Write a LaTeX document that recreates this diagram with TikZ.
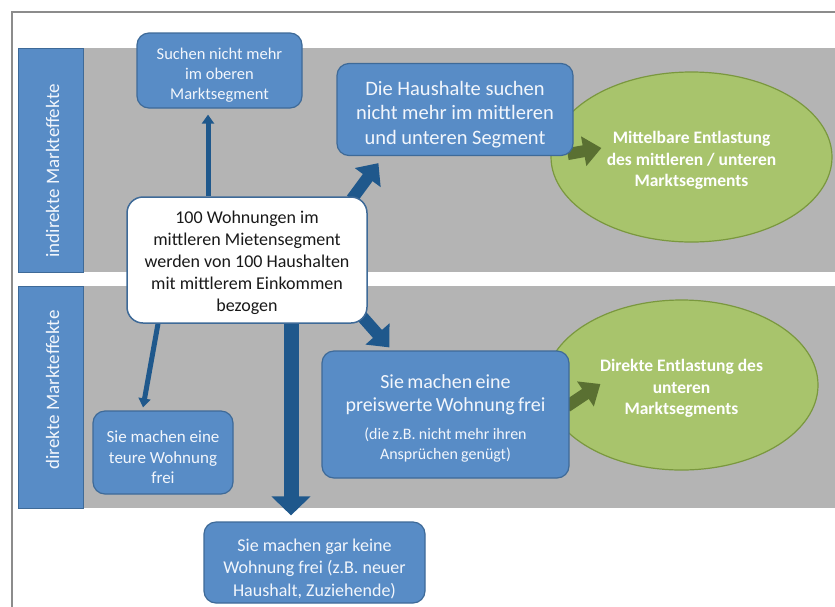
\documentclass[tikz,border=0pt]{standalone}
\usepackage{fontspec}
\setmainfont{Carlito}
\usetikzlibrary{arrows.meta,shapes.geometric}
\definecolor{boxblue}{RGB}{88,140,198}
\definecolor{boxedge}{RGB}{62,106,152}
\definecolor{arrblue}{RGB}{31,88,140}
\definecolor{bandgray}{RGB}{180,180,180}
\definecolor{framegray}{RGB}{140,140,140}
\definecolor{ellgreen}{RGB}{168,196,108}
\definecolor{elledge}{RGB}{122,152,62}
\definecolor{arrgreen}{RGB}{90,112,50}
\definecolor{boxtext}{RGB}{242,246,252}
\newcommand\pushdn[1]{\rule{0pt}{#1}}
\pgfdeclarelayer{back}
\pgfdeclarelayer{mid}
\pgfsetlayers{back,mid,main}
\tikzset{
  bluebox/.style={draw=boxedge, line width=1.2pt, fill=boxblue, rounded corners=12pt,
    text=boxtext, align=center, inner sep=0pt},
  whitebox/.style={draw=boxedge, line width=1.5pt, fill=white, rounded corners=16pt,
    text=black!90, align=center, inner sep=0pt},
  labbox/.style={draw=boxedge, line width=1pt, fill=boxblue, inner sep=0pt},
  labtext/.style={text=boxtext, font=\fontsize{19}{22}\selectfont, inner sep=0pt},
  greenell/.style={ellipse, draw=elledge, line width=1.2pt, fill=ellgreen, inner sep=0pt,
    text=white, align=center, font=\bfseries\fontsize{17.5}{21.5}\selectfont},
  thinarr/.style={draw=arrblue, line width=5pt, -{Triangle[width=12pt,length=9pt]}},
  fatarr/.style={draw=arrblue, line width=12pt, -{Triangle[width=31pt,length=18pt]}},
  bigarr/.style={draw=arrblue, line width=15pt, -{Triangle[width=38pt,length=19pt]}},
  greenarr/.style={draw=arrgreen, line width=12pt, -{Triangle[width=29pt,length=18pt]}}
}
\begin{document}
\begin{tikzpicture}[x=1pt,y=-1pt]
\useasboundingbox (0,0) rectangle (835,606);
\clip (0,0) rectangle (835,606);
\begin{pgfonlayer}{back}
  \fill[white] (0,0) rectangle (835,606);
  \draw[framegray, line width=1.8pt] (12,650) -- (12,12) -- (900,12);
  \fill[bandgray] (83,48) rectangle (840,272);
  \fill[bandgray] (83,286) rectangle (840,508);
  \node[greenell, minimum width=281pt, minimum height=170pt] (ell1) at (691.5,157)
    {\pushdn{19.5pt}Mittelbare Entlastung\\des mittleren / unteren\\Marktsegments};
  \node[greenell, minimum width=273pt, minimum height=170pt] (ell2) at (681.5,385)
    {\pushdn{19pt}Direkte Entlastung des\\unteren\\Marktsegments};
\end{pgfonlayer}

\node[labbox, minimum width=65pt, minimum height=224pt] (lab1) at (50.5,160) {};
\node[labtext, rotate=90] (lab1t) at ([xshift=2pt,yshift=-11pt]lab1.center) {indirekte Markteffekte};
\node[labbox, minimum width=65pt, minimum height=222pt] (lab2) at (50.5,397) {};
\node[labtext, rotate=90] (lab2t) at ([xshift=2pt,yshift=7pt]lab2.center) {direkte Markteffekte};

\node[bluebox, minimum width=165pt, minimum height=75pt, font=\fontsize{16.5}{20}\selectfont] (such) at (219.5,70.5)
  {\pushdn{21.5pt}Suchen nicht mehr\\im oberen\\Marktsegment};
\node[bluebox, minimum width=236pt, minimum height=92pt, font=\fontsize{20.5}{24.5}\selectfont] (haus) at (455,109.5)
  {\pushdn{24pt}Die Haushalte suchen\\nicht mehr im mittleren\\und unteren Segment};
\node[whitebox, minimum width=240pt, minimum height=126pt, font=\fontsize{18}{22}\selectfont] (wb) at (247,260)
  {\pushdn{19pt}100 Wohnungen im\\mittleren Mietensegment\\werden von 100 Haushalten\\mit mittlerem Einkommen\\bezogen};
\node[bluebox, minimum width=140pt, minimum height=83pt, font=\fontsize{17}{20.5}\selectfont] (teure) at (163,452.5)
  {\pushdn{22pt}Sie machen eine\\teure Wohnung\\frei};
\node[bluebox, minimum width=221pt, minimum height=81pt, font=\fontsize{18}{22.5}\selectfont] (keine) at (314.5,562.5)
  {\pushdn{24.5pt}Sie machen gar keine\\Wohnung frei (z.B. neuer\\Haushalt, Zuziehende)};
\node[bluebox, minimum width=247pt, minimum height=127pt, text width=240pt] (preis) at (445.5,414.5)
  {\fontsize{20}{23}\selectfont\pushdn{22pt}Sie machen eine\\preiswerte Wohnung frei\par
   \vskip 8pt
   \fontsize{16}{20}\selectfont (die z.B. nicht mehr ihren\\Ansprüchen genügt)\par};

\begin{pgfonlayer}{mid}
  \draw[thinarr] ([xshift=-39pt]wb.north) -- ([xshift=-39pt,yshift=-6pt]wb.north |- such.south);
  \draw[fatarr] ([xshift=-16pt,yshift=-3pt]wb.north east) -- ([xshift=42pt,yshift=-7pt]haus.south west);
  \draw[thinarr] ([xshift=-89pt]wb.south) -- ([xshift=-20pt,yshift=3pt]teure.north);
  \draw[bigarr] ([xshift=44pt]wb.south) -- ([xshift=44pt,yshift=6pt]wb.south |- keine.north);
  \draw[fatarr] ([xshift=-9pt,yshift=11pt]wb.south east) -- ([xshift=68pt,yshift=3pt]preis.north west);
  \draw[greenarr] ([xshift=-6pt,yshift=2pt]haus.south east) -- ([xshift=51pt,yshift=9pt]ell1.west);
  \draw[greenarr] ([xshift=-3pt,yshift=8pt]preis.east) -- ([xshift=56pt,yshift=1pt]ell2.west);
\end{pgfonlayer}
\end{tikzpicture}
\end{document}
